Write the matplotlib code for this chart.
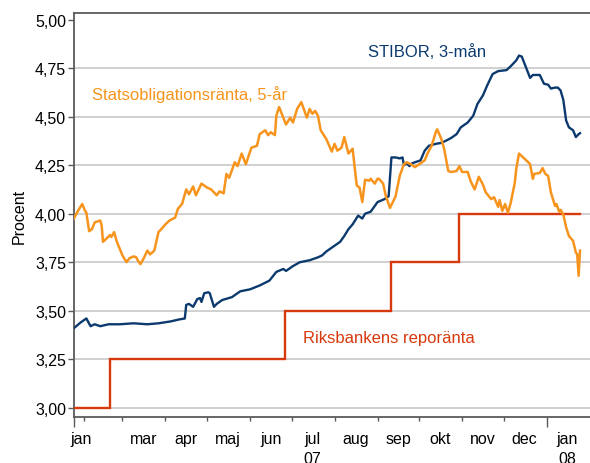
import matplotlib
matplotlib.use('Agg')
import matplotlib.pyplot as plt
import matplotlib.dates as mdates
from matplotlib.ticker import FixedLocator, FuncFormatter, NullFormatter
import pandas as pd

plt.rcParams['font.family'] = ['Liberation Sans', 'DejaVu Sans']

# ---------------- data ----------------
stibor_dates = ['2007-01-25', '2007-01-30', '2007-02-03', '2007-02-06', '2007-02-09', '2007-02-13',
                '2007-02-19', '2007-02-27', '2007-03-09', '2007-03-19', '2007-03-27', '2007-04-05',
                '2007-04-11', '2007-04-15', '2007-04-16', '2007-04-18', '2007-04-21', '2007-04-24',
                '2007-04-26', '2007-04-27', '2007-04-29', '2007-05-02', '2007-05-03', '2007-05-06',
                '2007-05-08', '2007-05-12', '2007-05-19', '2007-05-25', '2007-06-01', '2007-06-08',
                '2007-06-15', '2007-06-20', '2007-06-25', '2007-06-27', '2007-07-02', '2007-07-07',
                '2007-07-14', '2007-07-20', '2007-07-23', '2007-07-26', '2007-07-31', '2007-08-05',
                '2007-08-08', '2007-08-11', '2007-08-14', '2007-08-18', '2007-08-21', '2007-08-23',
                '2007-08-27', '2007-08-30', '2007-09-01', '2007-09-06', '2007-09-09', '2007-09-11',
                '2007-09-14', '2007-09-17', '2007-09-19', '2007-09-20', '2007-09-22', '2007-09-24',
                '2007-09-26', '2007-09-30', '2007-10-02', '2007-10-05', '2007-10-08', '2007-10-13',
                '2007-10-17', '2007-10-20', '2007-10-24', '2007-10-28', '2007-10-31', '2007-11-05',
                '2007-11-09', '2007-11-12', '2007-11-16', '2007-11-19', '2007-11-23', '2007-11-27',
                '2007-12-03', '2007-12-06', '2007-12-10', '2007-12-12', '2007-12-14', '2007-12-17',
                '2007-12-20', '2007-12-22', '2007-12-27', '2007-12-30', '2008-01-02', '2008-01-04',
                '2008-01-07', '2008-01-09', '2008-01-11', '2008-01-13', '2008-01-15', '2008-01-17',
                '2008-01-20', '2008-01-22', '2008-01-24', '2008-01-25']
stibor_vals = [3.41, 3.44, 3.46, 3.42, 3.43, 3.42,
               3.43, 3.43, 3.435, 3.43, 3.435, 3.445,
               3.455, 3.46, 3.53, 3.535, 3.52, 3.56,
               3.565, 3.545, 3.59, 3.595, 3.59, 3.52,
               3.535, 3.555, 3.57, 3.60, 3.61, 3.63,
               3.655, 3.70, 3.715, 3.705, 3.73, 3.75,
               3.76, 3.775, 3.785, 3.805, 3.83, 3.855,
               3.885, 3.92, 3.945, 3.99, 3.975, 4.00,
               4.01, 4.04, 4.06, 4.075, 4.09, 4.29,
               4.29, 4.285, 4.29, 4.25, 4.26, 4.245,
               4.26, 4.27, 4.275, 4.325, 4.35, 4.36,
               4.365, 4.375, 4.39, 4.41, 4.445, 4.47,
               4.505, 4.565, 4.61, 4.66, 4.72, 4.735,
               4.74, 4.76, 4.79, 4.815, 4.81, 4.755,
               4.70, 4.715, 4.715, 4.67, 4.665, 4.645,
               4.65, 4.65, 4.635, 4.585, 4.48, 4.445,
               4.43, 4.395, 4.41, 4.415]

bond_dates = ['2007-01-25', '2007-01-28', '2007-01-31', '2007-02-02', '2007-02-03', '2007-02-05',
              '2007-02-07', '2007-02-09', '2007-02-13', '2007-02-14', '2007-02-15', '2007-02-18',
              '2007-02-20', '2007-02-21', '2007-02-23', '2007-02-25', '2007-02-27', '2007-03-01',
              '2007-03-04', '2007-03-06', '2007-03-09', '2007-03-11', '2007-03-12', '2007-03-14',
              '2007-03-16', '2007-03-19', '2007-03-21', '2007-03-24', '2007-03-27', '2007-03-29',
              '2007-04-01', '2007-04-04', '2007-04-08', '2007-04-10', '2007-04-13', '2007-04-15',
              '2007-04-16', '2007-04-18', '2007-04-21', '2007-04-23', '2007-04-27', '2007-05-01',
              '2007-05-04', '2007-05-08', '2007-05-10', '2007-05-13', '2007-05-15', '2007-05-17',
              '2007-05-21', '2007-05-23', '2007-05-26', '2007-05-29', '2007-06-02', '2007-06-06',
              '2007-06-08', '2007-06-12', '2007-06-14', '2007-06-16', '2007-06-19', '2007-06-20',
              '2007-06-22', '2007-06-25', '2007-06-27', '2007-06-30', '2007-07-02', '2007-07-05',
              '2007-07-08', '2007-07-12', '2007-07-14', '2007-07-16', '2007-07-18', '2007-07-20',
              '2007-07-22', '2007-07-26', '2007-07-30', '2007-08-01', '2007-08-03', '2007-08-06',
              '2007-08-08', '2007-08-11', '2007-08-14', '2007-08-17', '2007-08-19', '2007-08-21',
              '2007-08-23', '2007-08-26', '2007-08-27', '2007-08-30', '2007-09-01', '2007-09-02',
              '2007-09-05', '2007-09-07', '2007-09-10', '2007-09-14', '2007-09-17', '2007-09-20',
              '2007-09-22', '2007-09-25', '2007-09-28', '2007-10-01', '2007-10-05', '2007-10-07',
              '2007-10-10', '2007-10-13', '2007-10-14', '2007-10-17', '2007-10-19', '2007-10-22',
              '2007-10-24', '2007-10-28', '2007-10-30', '2007-11-01', '2007-11-05', '2007-11-07',
              '2007-11-10', '2007-11-13', '2007-11-16', '2007-11-18', '2007-11-22', '2007-11-24',
              '2007-11-27', '2007-11-28', '2007-11-30', '2007-12-02', '2007-12-04', '2007-12-06',
              '2007-12-09', '2007-12-10', '2007-12-12', '2007-12-15', '2007-12-18', '2007-12-20',
              '2007-12-22', '2007-12-23', '2007-12-27', '2007-12-29', '2007-12-31', '2008-01-02',
              '2008-01-04', '2008-01-07', '2008-01-08', '2008-01-10', '2008-01-11', '2008-01-13',
              '2008-01-15', '2008-01-17', '2008-01-20', '2008-01-22', '2008-01-23', '2008-01-24',
              '2008-01-25']
bond_vals = [3.975, 4.015, 4.05, 4.015, 4.005, 3.91,
             3.92, 3.955, 3.965, 3.94, 3.855, 3.875,
             3.89, 3.88, 3.905, 3.855, 3.82, 3.785,
             3.75, 3.77, 3.78, 3.775, 3.76, 3.74,
             3.765, 3.81, 3.79, 3.81, 3.905, 3.92,
             3.945, 3.965, 3.98, 4.025, 4.05, 4.10,
             4.125, 4.10, 4.14, 4.095, 4.155, 4.135,
             4.125, 4.095, 4.115, 4.105, 4.205, 4.185,
             4.265, 4.245, 4.31, 4.255, 4.34, 4.35,
             4.41, 4.43, 4.405, 4.42, 4.405, 4.505,
             4.55, 4.495, 4.46, 4.495, 4.47, 4.54,
             4.575, 4.495, 4.54, 4.515, 4.53, 4.505,
             4.43, 4.385, 4.32, 4.36, 4.325, 4.34,
             4.395, 4.31, 4.335, 4.145, 4.135, 4.06,
             4.175, 4.17, 4.18, 4.155, 4.18, 4.18,
             4.155, 4.09, 4.03, 4.09, 4.195, 4.255,
             4.265, 4.255, 4.24, 4.255, 4.275, 4.31,
             4.35, 4.42, 4.435, 4.385, 4.335, 4.22,
             4.215, 4.22, 4.245, 4.215, 4.215, 4.17,
             4.125, 4.19, 4.15, 4.11, 4.075, 4.085,
             4.035, 4.07, 4.015, 4.05, 4.005, 4.055,
             4.16, 4.23, 4.31, 4.29, 4.27, 4.255,
             4.18, 4.205, 4.21, 4.235, 4.205, 4.195,
             4.11, 4.04, 4.05, 4.01, 4.02, 3.995,
             3.93, 3.885, 3.86, 3.80, 3.79, 3.68,
             3.81]

repo_dates = ['2007-01-25', '2007-02-20', '2007-06-26', '2007-09-11', '2007-10-30', '2008-01-25']
repo_vals = [3.00, 3.25, 3.50, 3.75, 4.00, 4.00]

month_label_dates = ['2007-01-30', '2007-03-16', '2007-04-16', '2007-05-16', '2007-06-16',
                     '2007-07-16', '2007-08-16', '2007-09-16', '2007-10-16', '2007-11-16',
                     '2007-12-16', '2008-01-16']
month_labels = ['jan', 'mar', 'apr', 'maj', 'jun', 'jul\n07', 'aug', 'sep', 'okt', 'nov',
                'dec', 'jan\n08']

y_ticks = [3.00, 3.25, 3.50, 3.75, 4.00, 4.25, 4.50, 4.75, 5.00]

series_names = ['STIBOR, 3-mån', 'Statsobligationsränta, 5-år', 'Riksbankens reporänta']

# ---------------- style ----------------
NAVY = '#0c3a6e'
ORANGE = '#f7941d'
RED = '#d63a0c'
SPINE = '#5a5a5a'

fig = plt.figure(figsize=(5.9, 4.64), dpi=100)
ax = fig.add_axes([74.3 / 590, 46 / 464, (590 - 74.3) / 590, 404 / 464])

ax.plot(pd.to_datetime(repo_dates), repo_vals, color=RED, lw=1.7, drawstyle='steps-post',
        zorder=3, solid_joinstyle='miter')
ax.plot(pd.to_datetime(stibor_dates), stibor_vals, color=NAVY, lw=1.7, zorder=4)
ax.plot(pd.to_datetime(bond_dates), bond_vals, color=ORANGE, lw=1.8, zorder=5)

x0 = pd.Timestamp('2007-01-25 07:00')
x1 = pd.Timestamp('2008-02-01 05:00')
ax.set_xlim(x0, x1)
ax.set_ylim(2.952, 5.0345)

# y axis
ax.set_yticks(y_ticks)
ax.yaxis.set_major_formatter(FuncFormatter(lambda v, p: f"{v:.2f}".replace('.', ',')))
ax.tick_params(axis='y', direction='out', length=4.5, width=1.0, color=SPINE, pad=1.5,
               labelsize=11.5, labelcolor='black')
ax.set_ylabel('Procent', fontsize=11.5, labelpad=6)
ax.yaxis.grid(True, color='#cdcdcd', lw=1.3, zorder=0)
ax.set_axisbelow(True)

# x axis: month boundaries (marks), mid-month labels
month_starts = list(pd.date_range('2007-02-01', '2008-01-01', freq='MS'))
major_locs = [mdates.date2num(x0)] + [mdates.date2num(d) for d in month_starts]
ax.xaxis.set_major_locator(FixedLocator(major_locs))
ax.xaxis.set_major_formatter(NullFormatter())
ax.xaxis.set_minor_locator(FixedLocator([mdates.date2num(pd.Timestamp(d)) for d in month_label_dates]))
ax.xaxis.set_minor_formatter(FuncFormatter(lambda v, p: month_labels[p] if p is not None and p < len(month_labels) else ''))
ax.tick_params(axis='x', which='major', direction='out', length=3, width=1.0, color=SPINE)
ax.tick_params(axis='x', which='minor', length=0, pad=10, labelsize=11.5)

for s in ['left', 'bottom', 'top']:
    ax.spines[s].set_color(SPINE)
    ax.spines[s].set_linewidth(1.3)
ax.spines['right'].set_visible(False)

# series labels
ax.text(pd.Timestamp('2007-08-25'), 4.813, series_names[0], color=NAVY, fontsize=12,
        ha='left', va='baseline')
ax.text(pd.Timestamp('2007-02-07'), 4.591, series_names[1], color=ORANGE, fontsize=12,
        ha='left', va='baseline')
ax.text(pd.Timestamp('2007-07-09'), 3.339, series_names[2], color=RED, fontsize=12,
        ha='left', va='baseline')

fig.canvas.draw()
for t in ax.xaxis.get_minor_ticks():
    t.label1.set_linespacing(1.4)
for t, loc in zip(ax.xaxis.get_major_ticks(), major_locs):
    if loc == major_locs[0] or loc == mdates.date2num(pd.Timestamp('2008-01-01')):
        t.tick1line.set_markersize(7.5)
ax.get_ygridlines()[-1].set_visible(False)

fig.savefig('out.png', dpi=100)
